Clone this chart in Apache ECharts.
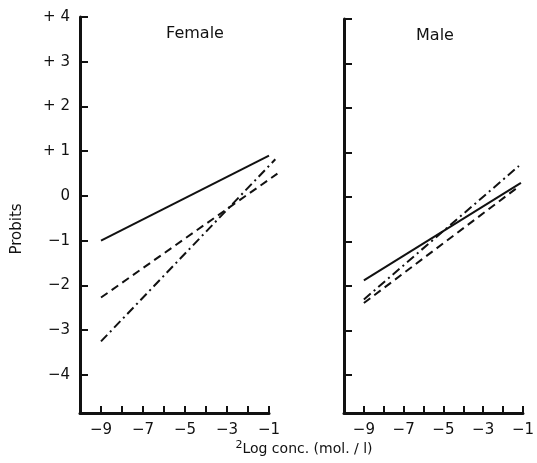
<!DOCTYPE html>
<html><head><meta charset="utf-8">
<script src="https://cdn.jsdelivr.net/npm/echarts@6/dist/echarts.min.js"></script>
<style>html,body{margin:0;padding:0;background:#fff}#c{width:537px;height:463px}</style>
</head><body><div id="c"></div>
<script>
const panelTitles = ['Female', 'Male'];
const yTicks = [-4, -3, -2, -1, 0, 1, 2, 3, 4];
const xTicks = [-9, -8, -7, -6, -5, -4, -3, -2, -1];
const xLabels = [-9, -7, -5, -3, -1];
// Female lines [x, probit]
const femaleSolid = [[-9, -1.0], [-1, 0.9]];
const femaleDashed = [[-9, -2.27], [-0.6, 0.5]];
const femaleDashDot = [[-9, -3.25], [-0.7, 0.82]];
// Male lines
const maleSolid = [[-9, -1.87], [-1.1, 0.32]];
const maleDashed = [[-9, -2.38], [-1.2, 0.24]];
const maleDashDot = [[-9, -2.3], [-1.2, 0.7]];

const font = 'DejaVu Sans';
const pxPerUnit = 21;
const chart = echarts.init(document.getElementById('c'));
function fmtY(v) { v = Math.round(v); return v > 0 ? '+ ' + v : (v < 0 ? '\u2212' + (-v) : '0'); }
function fmtX(v) { v = Math.round(v); return xLabels.indexOf(v) >= 0 ? (v < 0 ? '\u2212' + (-v) : String(v)) : ''; }
function xAxis(i) {
  return {
    gridIndex: i, type: 'value', min: -10, max: -1,
    axisLine: { onZero: false, lineStyle: { color: '#111', width: 3 } },
    axisTick: { inside: true, length: 7, lineStyle: { color: '#111', width: 2 }, customValues: xTicks },
    axisLabel: { color: '#111', fontFamily: font, fontSize: 15, margin: 10, customValues: xLabels, formatter: fmtX },
    splitLine: { show: false }
  };
}
function yAxis(i, showLabels) {
  return {
    gridIndex: i, type: 'value', min: -4.85, max: 4,
    axisLine: { onZero: false, lineStyle: { color: '#111', width: 3 } },
    axisTick: { inside: true, length: 8, lineStyle: { color: '#111', width: 2 }, customValues: yTicks },
    axisLabel: { show: showLabels, color: '#111', fontFamily: font, fontSize: 15, margin: 10, customValues: yTicks, formatter: fmtY },
    splitLine: { show: false }
  };
}
// hidden plotting axes for the Female panel (same scale, wider so lines may pass x = -1)
function hiddenX(i) {
  return { gridIndex: i, type: 'value', min: -10, max: 0, show: false, splitLine: { show: false } };
}
function hiddenY(i) {
  return { gridIndex: i, type: 'value', min: -4.85, max: 4, show: false, splitLine: { show: false } };
}
function line(data, ai, type) {
  return {
    type: 'line', xAxisIndex: ai, yAxisIndex: ai, data: data, symbol: 'none', clip: false,
    lineStyle: { color: '#111', width: 2, type: type }
  };
}
chart.setOption({
  animation: false,
  backgroundColor: '#fff',
  grid: [
    { left: 80, top: 17, width: 9 * pxPerUnit, bottom: 50 },
    { left: 344, top: 19, width: 9 * pxPerUnit + 2, bottom: 50 },
    { left: 80, top: 17, width: 10 * pxPerUnit, bottom: 50 }
  ],
  xAxis: [xAxis(0), xAxis(1), hiddenX(2)],
  yAxis: [yAxis(0, true), yAxis(1, false), hiddenY(2)],
  graphic: [
    { type: 'text', x: 195, y: 34, style: { text: panelTitles[0], font: '16px "DejaVu Sans"', fill: '#111', align: 'center', verticalAlign: 'middle' } },
    { type: 'text', x: 435, y: 36, style: { text: panelTitles[1], font: '16px "DejaVu Sans"', fill: '#111', align: 'center', verticalAlign: 'middle' } },
    { type: 'text', x: 17, y: 229, rotation: Math.PI / 2, style: { text: 'Probits', font: '15px "DejaVu Sans"', fill: '#111', align: 'center', verticalAlign: 'middle' } },
    { type: 'text', x: 304, y: 449, style: { text: '{s|2}Log conc. (mol. / l)', font: '14px "DejaVu Sans"', fill: '#111', align: 'center', verticalAlign: 'middle', rich: { s: { fontSize: 11, verticalAlign: 'top', padding: [0, 0, 8, 0], fontFamily: font } } } }
  ],
  series: [
    line(femaleSolid, 2, 'solid'),
    line(femaleDashed, 2, [8, 5]),
    line(femaleDashDot, 2, [9, 4, 2, 4]),
    line(maleSolid, 1, 'solid'),
    line(maleDashed, 1, [8, 5]),
    line(maleDashDot, 1, [9, 4, 2, 4])
  ]
});
</script></body></html>
